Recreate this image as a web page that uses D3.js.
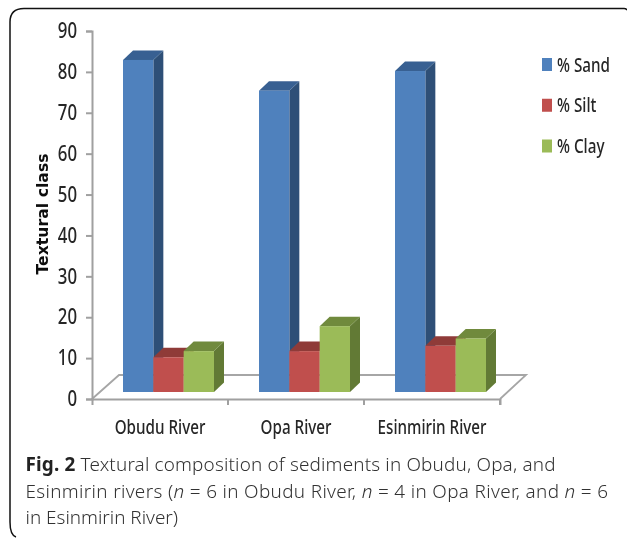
<!DOCTYPE html>
<html lang="en">
<head>
<meta charset="UTF-8">
<title>Textural composition</title>
<script src="https://d3js.org/d3.v7.min.js"></script>
<style>
  html, body { margin: 0; padding: 0; background: #fff; }
  svg { display: block; }
  .tick-label { font-family: "Noto Sans", sans-serif; font-weight: 500; fill: #262626; }
  .caption { font-family: "Noto Sans", "Open Sans", sans-serif; font-size: 18.9px; font-weight: 300; fill: #333; }
</style>
</head>
<body>
<div id="chart"></div>
<script>
const rivers = ['Obudu River', 'Opa River', 'Esinmirin River']
const seriesNames = ['% Sand', '% Silt', '% Clay']
const sand = [81.2, 73.7, 78.5]
const silt = [8.5, 10, 11.3]
const clay = [10, 16.1, 13.1]
const yTicks = [0, 10, 20, 30, 40, 50, 60, 70, 80, 90]
const seriesValues = [sand, silt, clay]

// front, top, side
const colors = [
  ['#4f81bd', '#386192', '#2f5077'],
  ['#c0504d', '#8f3b39', '#8f3b39'],
  ['#9bbb59', '#6f8a3d', '#627a34']
]

const width = 627, height = 538
const depthX = 10, depthY = 9.5      // bar depth
const floorX = 27, floorY = 24       // floor depth
const floorInset = 7                 // bars stand this far above the front edge

const svg = d3.select('#chart').append('svg')
  .attr('width', width)
  .attr('height', height)

const defs = svg.append('defs')
defs.append('filter').attr('id', 'soft')
  .append('feGaussianBlur').attr('stdDeviation', 0.45)

// the reference labels are a condensed face, none is installed so squeeze the glyphs
function squeeze(sel, factor) {
  sel.each(function() {
    const len = this.getComputedTextLength()
    d3.select(this)
      .attr('textLength', len * factor)
      .attr('lengthAdjust', 'spacingAndGlyphs')
  })
}

// frame
svg.append('path')
  .attr('d', 'M627,10 Q626,8.5 624,8.5 H24 Q10,8.5 10,22 V522 Q10,535 16,537')
  .attr('fill', 'none')
  .attr('stroke', '#111')
  .attr('stroke-width', 1.5)

const plot = svg.append('g').attr('filter', 'url(#soft)')

const x = d3.scaleBand().domain(rivers).range([92, 500])
const inner = d3.scaleBand().domain(seriesNames).range([31, 122])
const y = d3.scaleLinear().domain([0, 90]).range([399, 31])

// floor
const x0 = x.range()[0], x1 = x.range()[1], y0 = y(0)
plot.append('path')
  .attr('d', `M${x0},${y0} L${x0 + floorX},${y0 - floorY} H${x1 + floorX - 1} L${x1},${y0}`)
  .attr('fill', 'none')
  .attr('stroke', '#a6a6a6')
  .attr('stroke-width', 1.8)

// axes
const yAxis = d3.axisLeft(y).tickValues(yTicks).tickSize(6).tickPadding(9)
const gy = plot.append('g').attr('transform', `translate(${x0},0)`).call(yAxis)
gy.selectAll('path, line').attr('stroke', '#a0a0a0').attr('stroke-width', 2)
gy.selectAll('text')
  .attr('class', 'tick-label')
  .style('font-size', '21px')
  .call(squeeze, 0.8)

const xAxis = d3.axisBottom(x).tickSize(6).tickSizeOuter(6).tickFormat(d => d)
const gx = plot.append('g').attr('transform', `translate(0,${y0})`).call(xAxis)
gx.selectAll('path, line').attr('stroke', '#a0a0a0').attr('stroke-width', 2)
gx.selectAll('.tick line').remove()
gx.selectAll('text')
  .attr('class', 'tick-label')
  .attr('y', 22)
  .attr('dy', '0.71em')
  .style('font-size', '19px')
  .call(squeeze, 0.8)
// ticks sit between the categories
plot.append('g').selectAll('line')
  .data(rivers.slice(1).concat(['end']))
  .join('line')
  .attr('x1', d => d === 'end' ? x1 : x(d))
  .attr('x2', d => d === 'end' ? x1 : x(d))
  .attr('y1', y0)
  .attr('y2', y0 + 6)
  .attr('stroke', '#a0a0a0')
  .attr('stroke-width', 2)

// bars
rivers.forEach((river, i) => {
  const g = plot.append('g')
  seriesNames.forEach((name, s) => {
    const v = seriesValues[s][i]
    const left = x(river) + inner(name)
    const w = inner.bandwidth()
    const top = y(v) - floorInset
    const base = y0 - floorInset
    // side
    g.append('path')
      .attr('d', `M${left + w},${top} l${depthX},${-depthY} V${base - depthY} l${-depthX},${depthY} Z`)
      .attr('fill', colors[s][2])
    // top
    g.append('path')
      .attr('d', `M${left},${top} l${depthX},${-depthY} h${w} l${-depthX},${depthY} Z`)
      .attr('fill', colors[s][1])
    // front
    g.append('rect')
      .attr('x', left)
      .attr('y', top)
      .attr('width', w)
      .attr('height', base - top)
      .attr('fill', colors[s][0])
  })
})

// y title
plot.append('text')
  .attr('transform', 'translate(47.5,214) rotate(-90)')
  .attr('text-anchor', 'middle')
  .attr('font-family', '"DejaVu Sans", sans-serif')
  .attr('font-weight', 'bold')
  .attr('font-size', 15.7)
  .attr('fill', '#111')
  .text('Textural class')

// legend
const legendY = d3.scalePoint().domain(seriesNames).range([64.5, 146])
const legend = plot.append('g').selectAll('g')
  .data(seriesNames)
  .join('g')
  .attr('transform', d => `translate(542,${legendY(d)})`)
legend.append('rect')
  .attr('x', 0).attr('y', -6.5)
  .attr('width', 10).attr('height', 13)
  .attr('fill', (d, i) => colors[i][0])
legend.append('text')
  .attr('class', 'tick-label')
  .attr('x', 15)
  .attr('dy', '0.36em')
  .style('font-size', '19.5px')
  .text(d => d)
  .call(squeeze, 0.78)

// caption
const caption = svg.append('g').attr('class', 'caption').attr('filter', 'url(#soft)')
const line1 = caption.append('text').attr('x', 25.5).attr('y', 471).attr('textLength', 530)
line1.append('tspan').attr('font-weight', 'bold').attr('fill', '#222').text('Fig. 2')
line1.append('tspan').text(' Textural composition of sediments in Obudu, Opa, and')
const line2 = caption.append('text').attr('x', 25.5).attr('y', 498).attr('textLength', 582.5)
line2.append('tspan').text('Esinmirin rivers (')
line2.append('tspan').attr('font-style', 'italic').text('n')
line2.append('tspan').text(' = 6 in Obudu River, ')
line2.append('tspan').attr('font-style', 'italic').text('n')
line2.append('tspan').text(' = 4 in Opa River, and ')
line2.append('tspan').attr('font-style', 'italic').text('n')
line2.append('tspan').text(' = 6')
caption.append('text').attr('x', 25.5).attr('y', 524).text('in Esinmirin River)')
</script>
</body>
</html>
